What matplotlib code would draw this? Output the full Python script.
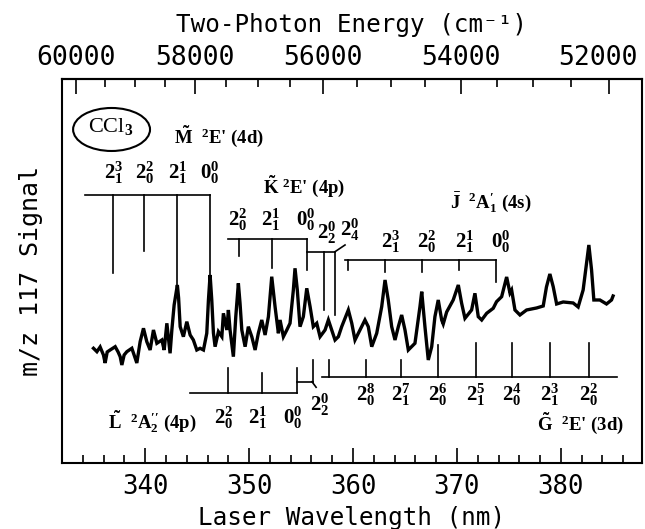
import numpy as np
import matplotlib.pyplot as plt
from matplotlib.ticker import MultipleLocator, FixedLocator
from matplotlib.patches import Ellipse
from matplotlib.transforms import ScaledTranslation

plt.rcParams['font.family'] = 'DejaVu Sans Mono'
plt.rcParams['mathtext.fontset'] = 'custom'
plt.rcParams['mathtext.rm'] = 'Liberation Serif:bold'
plt.rcParams['mathtext.it'] = 'Liberation Serif:italic:bold'
plt.rcParams['mathtext.bf'] = 'Liberation Serif:bold'

# REMPI spectrum of CCl3 (laser wavelength in nm, signal arb.)
wl = [335.03, 335.36, 335.67, 335.99, 336.15, 336.35, 336.63, 337.12, 337.40, 337.60,
      337.76, 337.98, 338.24, 338.72, 338.94, 339.20, 339.52, 339.84, 340.16, 340.48,
      340.80, 341.13, 341.61, 341.83, 342.09, 342.40, 342.57, 342.79, 343.10, 343.22,
      343.37, 343.68, 344.01, 344.33, 344.64, 344.97, 345.29, 345.61, 345.93, 346.09,
      346.25, 346.41, 346.57, 346.73, 347.05, 347.38, 347.53, 347.86, 348.01, 348.17,
      348.49, 348.72, 348.97, 349.13, 349.30, 349.62, 349.93, 350.26, 350.58, 350.89,
      351.22, 351.54, 351.86, 352.18, 352.50, 352.82, 352.98, 353.30, 353.63, 353.94,
      354.26, 354.42, 354.64, 354.90, 355.22, 355.55, 355.87, 356.18, 356.51, 356.83,
      357.31, 357.63, 357.95, 358.27, 358.59, 358.91, 359.55, 359.88, 360.19, 360.67,
      361.15, 361.47, 361.80, 362.28, 362.76, 363.08, 363.39, 363.72, 364.04, 364.36,
      364.68, 365.00, 365.32, 365.64, 365.96, 366.44, 366.61, 366.92, 367.24, 367.57,
      367.88, 368.20, 368.53, 368.68, 369.01, 369.64, 370.13, 370.45, 370.77, 371.41,
      371.73, 372.05, 372.38, 372.86, 373.49, 373.81, 374.30, 374.78, 375.10, 375.26,
      375.58, 376.06, 376.70, 377.66, 378.30, 378.61, 378.94, 379.26, 379.59, 380.22,
      381.18, 381.66, 382.14, 382.47, 382.69, 382.95, 383.17, 383.75, 384.39, 384.87,
      385.02]
sig = [114.7, 111.3, 116.0, 108.0, 100.0, 111.0, 113.0, 116.3, 111.0, 106.3,
       98.0, 108.0, 111.3, 114.7, 108.0, 100.0, 121.3, 134.7, 121.3, 113.0,
       133.0, 119.7, 123.0, 113.0, 139.7, 109.7, 133.0, 158.0, 178.0, 165.0,
       136.3, 126.3, 141.3, 128.0, 123.0, 113.0, 114.7, 113.0, 129.7, 163.0,
       188.0, 163.0, 130.0, 116.3, 131.3, 126.3, 149.7, 133.0, 153.0, 133.0,
       106.3, 146.3, 179.7, 159.7, 133.0, 116.3, 136.3, 126.3, 113.0, 129.7,
       143.0, 128.0, 146.3, 186.3, 156.3, 129.7, 143.0, 126.3, 133.0, 139.7,
       173.0, 194.7, 173.0, 136.3, 146.3, 174.7, 156.3, 136.3, 139.7, 126.3,
       133.0, 143.0, 133.0, 123.0, 126.3, 136.3, 153.0, 139.7, 123.0, 133.0,
       143.0, 136.3, 116.3, 129.7, 156.3, 183.0, 163.0, 136.3, 123.0, 136.3,
       148.0, 133.0, 113.0, 116.3, 119.7, 156.3, 171.3, 136.3, 103.0, 116.3,
       146.3, 163.0, 143.0, 139.0, 151.0, 163.0, 178.0, 159.7, 144.7, 153.0,
       169.7, 146.3, 143.0, 149.7, 154.7, 161.3, 166.3, 186.0, 170.0, 173.0,
       153.0, 148.0, 153.0, 155.0, 157.0, 176.0, 189.0, 176.3, 159.0, 161.0,
       160.0, 156.0, 173.0, 200.0, 218.0, 193.0, 163.0, 163.0, 159.0, 163.0,
       167.0]

# band assignments (nm)
m_pos = [336.95, 339.93, 343.11, 346.25]
m_lab = [r'$2^3_1$', r'$2^2_0$', r'$2^1_1$', r'$0^0_0$']
k_pos = [349.0, 352.21, 355.58]
k_lab = [r'$2^2_0$', r'$2^1_1$', r'$0^0_0$']
k_hot = [357.24, 358.27]
k_hot_lab = [r'$2^0_2$', r'$2^0_4$']
j_pos = [359.52, 363.08, 366.61, 370.19, 373.72]
j_lab = ['', r'$2^3_1$', r'$2^2_0$', r'$2^1_1$', r'$0^0_0$']
l_pos = [347.95, 351.25, 354.59]
l_lab = [r'$2^2_0$', r'$2^1_1$', r'$0^0_0$']
l_hot = 356.15
g_pos = [357.69, 361.22, 364.59, 368.17, 371.80, 375.29, 378.94, 382.69]
g_lab = ['', r'$2^8_0$', r'$2^7_1$', r'$2^6_0$', r'$2^5_1$', r'$2^4_0$', r'$2^3_1$', r'$2^2_0$']

fig = plt.figure(figsize=(6.45, 5.29), dpi=100)
ax = fig.add_axes([0.0961, 0.1248, 0.8992, 0.7259])

ax.plot(wl, sig, color='black', lw=2.4, solid_joinstyle='miter')
ax.set_xlim(332.0, 387.8)
ax.set_ylim(0, 384)
ax.set_yticks([])

for s in ax.spines.values():
    s.set_linewidth(1.5)

ax.xaxis.set_major_locator(MultipleLocator(10))
ax.xaxis.set_minor_locator(MultipleLocator(2))
ax.tick_params(axis='x', which='major', direction='in', length=11, width=1.2,
               labelsize=18.5, pad=8)
ax.tick_params(axis='x', which='minor', direction='in', length=5.5, width=1.2)
ax.set_xlabel('Laser Wavelength (nm)', fontsize=17.5, labelpad=4)
ax.set_ylabel('m/z 117 Signal', fontsize=18, labelpad=14)


def inv(x):
    x = np.asarray(x, dtype=float)
    with np.errstate(divide='ignore'):
        return np.where(x == 0, np.inf, 2e7 / np.where(x == 0, 1, x))


sec = ax.secondary_xaxis('top', functions=(inv, inv))
sec.xaxis.set_major_locator(FixedLocator([52000, 54000, 56000, 58000, 60000]))
sec.xaxis.set_minor_locator(FixedLocator(np.arange(51500, 61000, 500)))
sec.tick_params(which='major', direction='in', length=11, width=1.2, labelsize=19, pad=6)
sec.tick_params(which='minor', direction='in', length=5.5, width=1.2)
sec.spines['top'].set_linewidth(1.5)
sec.set_xlabel('Two-Photon Energy (cm⁻¹)', fontsize=17.5, labelpad=9)

lk = dict(color='black', lw=1.2)
tk = dict(family='Liberation Serif', weight='bold', fontsize=15, ha='center', va='center')
hk = dict(family='Liberation Serif', weight='bold', fontsize=13.5, ha='left', va='center')

# CCl3 tag
ax.add_patch(Ellipse((336.77, 333.5), 7.4, 43, fill=False, lw=1.5, color='black'))
ax.text(336.65, 336, r'CCl$_3$', family='Liberation Serif', fontsize=16,
        ha='center', va='center')

# M 2E' (4d)
ax.text(342.8, 327, r"$\tilde{\mathrm{M}}$  $^{2}$E' (4d)", **hk)
ax.plot([334.23, m_pos[-1]], [268, 268], **lk)
for x, tip, lab in zip(m_pos, [190, 212, 178, 188], m_lab):
    ax.plot([x, x], [268, tip], **lk)
    ax.text(x, 290, lab, **tk)

# K 2E' (4p)
ax.text(351.3, 277, r"$\tilde{\mathrm{K}}$ $^{2}$E' (4p)", **hk)
ax.plot([347.98, k_pos[-1]], [224, 224], **lk)
for x, tip, lab in zip(k_pos, [207, 195, 193], k_lab):
    ax.plot([x, x], [224, tip], **lk)
    ax.text(x - 0.1, 243, lab, **tk)
ax.plot([k_pos[-1], k_hot[-1]], [211.3, 211.3], **lk)
for x, tip in zip(k_hot, [153, 148]):
    ax.plot([x, x], [211.3, tip], **lk)
ax.plot([k_hot[-1], 359.23], [211.3, 218], **lk)
ax.text(357.5, 230, k_hot_lab[0], **tk)
ax.text(359.7, 233, k_hot_lab[1], **tk)

# J 2A1' (4s)
ax.text(369.3, 260, r"$\bar{\mathrm{J}}$  $^{2}\mathrm{A}_{1}^{\prime}$ (4s)", **hk)
ax.plot([359.23, j_pos[-1]], [203, 203], **lk)
for x, tip, lab in zip(j_pos, [193, 191, 191, 193, 181], j_lab):
    ax.plot([x, x], [203, tip], **lk)
    if lab:
        ax.text(x + 0.5, 221, lab, **tk)

# L 2A2'' (4p)
ax.text(336.44, 41, r"$\tilde{\mathrm{L}}$  $^{2}\mathrm{A}_{2}^{\prime\prime}$ (4p)", **hk)
ax.plot([344.33, l_pos[-1]], [70, 70], **lk)
for x, tip, lab in zip(l_pos, [95, 90.3, 95], l_lab):
    ax.plot([x, x], [70, tip], **lk)
    ax.text(x - 0.4, 45, lab, **tk)
ax.plot([l_pos[-1], l_hot], [81.3, 81.3], **lk)
ax.plot([l_hot, l_hot], [81.3, 103], **lk)
ax.plot([l_hot - 0.1, l_hot + 0.3], [81.3, 75.7], **lk)
ax.text(356.83, 58, r'$2^0_2$', **tk)

# G 2E' (3d)
ax.text(377.69, 40, r"$\tilde{\mathrm{G}}$  $^{2}$E' (3d)", **hk)
ax.plot([356.99, 385.35], [86, 86], **lk)
for x, tip, lab in zip(g_pos, [103, 103, 103, 118, 120, 120, 120, 120], g_lab):
    ax.plot([x, x], [86, tip], **lk)
    if lab:
        ax.text(x, 68, lab, **tk)

# the rightmost wavenumber label sits a bit left of its tick in the original
fig.canvas.draw()
for t in sec.xaxis.get_major_ticks():
    if t.label2.get_text() == '52000':
        t.label2.set_transform(t.label2.get_transform()
                               + ScaledTranslation(-8 / 72, 0, fig.dpi_scale_trans))

fig.savefig('out.png', dpi=100)
